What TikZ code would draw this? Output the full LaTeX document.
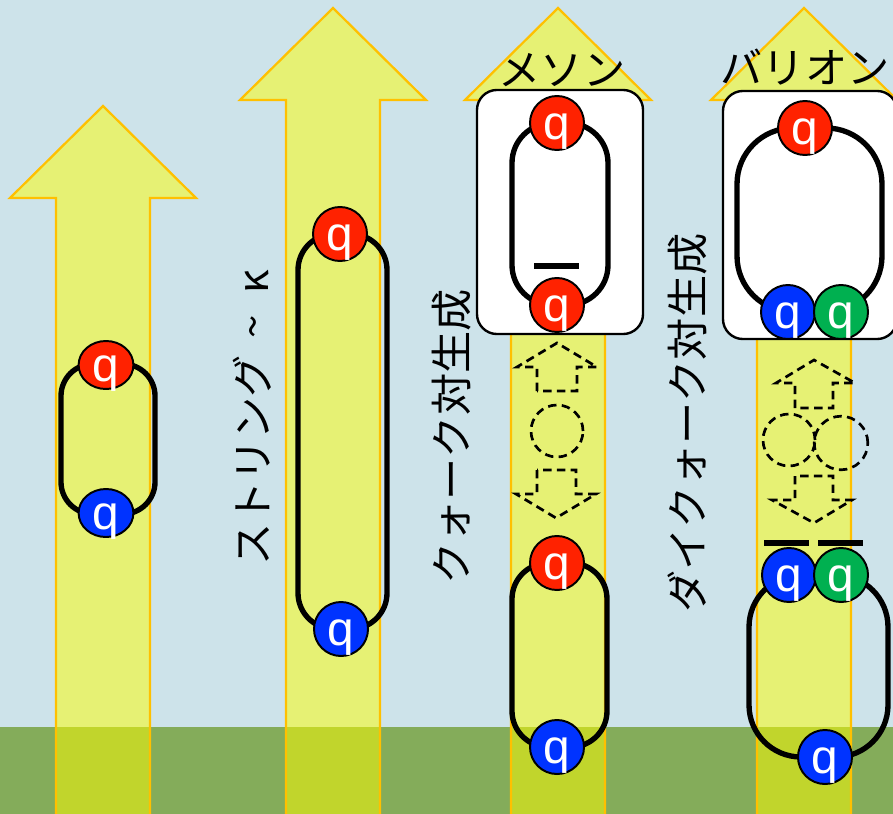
\documentclass[tikz,border=0pt]{standalone}
\usepackage{fontspec}
\usepackage{tikz}
\usetikzlibrary{shapes.geometric}

\newfontfamily\jpfont{Noto Sans CJK JP}
\newfontfamily\qfont{Liberation Sans}

\definecolor{sky}{HTML}{CDE3EA}
\definecolor{ground}{HTML}{84AC5A}
\definecolor{flow}{HTML}{FFFF00}
\definecolor{flowedge}{HTML}{FFC000}
\definecolor{qred}{HTML}{FF2200}
\definecolor{qblue}{HTML}{0033FF}
\definecolor{qgreen}{HTML}{00B050}

\tikzset{
  flowarrow/.style={fill=flow, fill opacity=0.5, draw=flowedge, line width=1.6pt},
  stringline/.style={line width=3.8pt, rounded corners=0.9cm},
  quark/.style={circle, draw, line width=1.4pt, minimum size=1.35cm, inner sep=0pt,
    text=white, font=\qfont\fontsize{34}{34}\selectfont,
    text height=24pt, text depth=0pt},
  hadronbox/.style={fill=white, draw, line width=1.7pt, rounded corners=0.5cm},
  antibar/.style={line width=3.8pt},
  pairhint/.style={line width=1.9pt, dash pattern=on 6pt off 3.8pt},
  jplabel/.style={font=\jpfont\fontsize{30}{30}\selectfont, inner sep=0pt}
}

\begin{document}
\begin{tikzpicture}[x=0.025cm, y=-0.025cm]
    \useasboundingbox (0,0) rectangle (893,814);
    \clip (0,0) rectangle (893,814);
    \fill [sky] (0,0) rectangle (893,814);
    \fill [ground] (0,727) rectangle (893,814);

    \foreach \cx/\base in {103/198, 333/100, 558/100, 804/100}
      \draw [flowarrow] (\cx-47,830) -- (\cx-47,\base) -- (\cx-93,\base) --
        (\cx,\base-92) -- (\cx+93,\base) -- (\cx+47,\base) -- (\cx+47,830) -- cycle;

    % single pair
    \draw [stringline, rounded corners=0.8cm] (61,364) rectangle (155,514);
    \node [quark, ellipse, minimum width=1.37cm, minimum height=1.2cm, fill=qred]
      (q1a) at (106,365) {q};
    \node [quark, ellipse, minimum width=1.37cm, minimum height=1.2cm, fill=qblue]
      (q1b) at (106,513) {q};

    % stretched string
    \draw [stringline] (298,234) rectangle (387,629);
    \node [quark, fill=qred]  (q2a) at (340,234) {q};
    \node [quark, fill=qblue] (q2b) at (341,629) {q};
    \node [jplabel, rotate=90] (string) at (252,418)
      {ストリング\hspace{0.4em}\textasciitilde\hspace{0.5em}κ};

    % meson
    \node [hadronbox, minimum width=4.15cm, minimum height=6.1cm] (mbox) at (560,212) {};
    \draw [stringline, rounded corners=1cm] (512,123) rectangle (608,305);
    \node [quark, fill=qred] (m1) at (557,123) {q};
    \node [quark, fill=qred] (m2) at (557,305) {q};
    \draw [antibar] (534,266) -- (579,266);
    \node [jplabel] (meson) at (562,70) {メソン};

    \draw [pairhint] (537,391) -- (537,367) -- (517,367) -- (557,343) --
      (597,367) -- (577,367) -- (577,391) -- cycle;
    \draw [pairhint] (557,431) circle [radius=0.65cm];
    \draw [pairhint] (537,470) -- (537,494) -- (516,494) -- (556,518) --
      (596,494) -- (576,494) -- (576,470) -- cycle;
    \node [jplabel, rotate=90] (pair) at (452,437) {クォーク対生成};

    \draw [stringline] (512,563) rectangle (607,747);
    \node [quark, fill=qred]  (m3) at (557,563) {q};
    \node [quark, fill=qblue] (m4) at (557,747) {q};

    % baryon
    \node [hadronbox, minimum width=4.35cm, minimum height=6.2cm] (bbox) at (810,215) {};
    \draw [stringline, rounded corners=1.4cm] (737,128) rectangle (882,312);
    \node [quark, fill=qred]   (b1) at (805,128) {q};
    \node [quark, fill=qblue]  (b2) at (788,312) {q};
    \node [quark, fill=qgreen] (b3) at (841,312) {q};
    \node [jplabel] (baryon) at (805,67) {バリオン};

    \draw [pairhint] (795,408) -- (795,383) -- (776,383) -- (814,360) --
      (855,383) -- (833,383) -- (833,408) -- cycle;
    \draw [pairhint] (789,440) circle [radius=0.65cm];
    \draw [pairhint] (841,443) circle [radius=0.67cm];
    \draw [pairhint] (795,476) -- (795,500) -- (772,500) -- (814,523) --
      (852,500) -- (833,500) -- (833,476) -- cycle;
    \node [jplabel, rotate=90] (dipair) at (687,423) {ダイクォーク対生成};

    \draw [stringline, rounded corners=1.3cm] (749,575) rectangle (888,757);
    \node [quark, fill=qblue]  (b4) at (789,575) {q};
    \node [quark, fill=qgreen] (b5) at (841,575) {q};
    \node [quark, fill=qblue]  (b6) at (825,757) {q};
    \draw [antibar] (764,543) -- (809,543);
    \draw [antibar] (818,543) -- (863,543);
  \end{tikzpicture}
\end{document}
